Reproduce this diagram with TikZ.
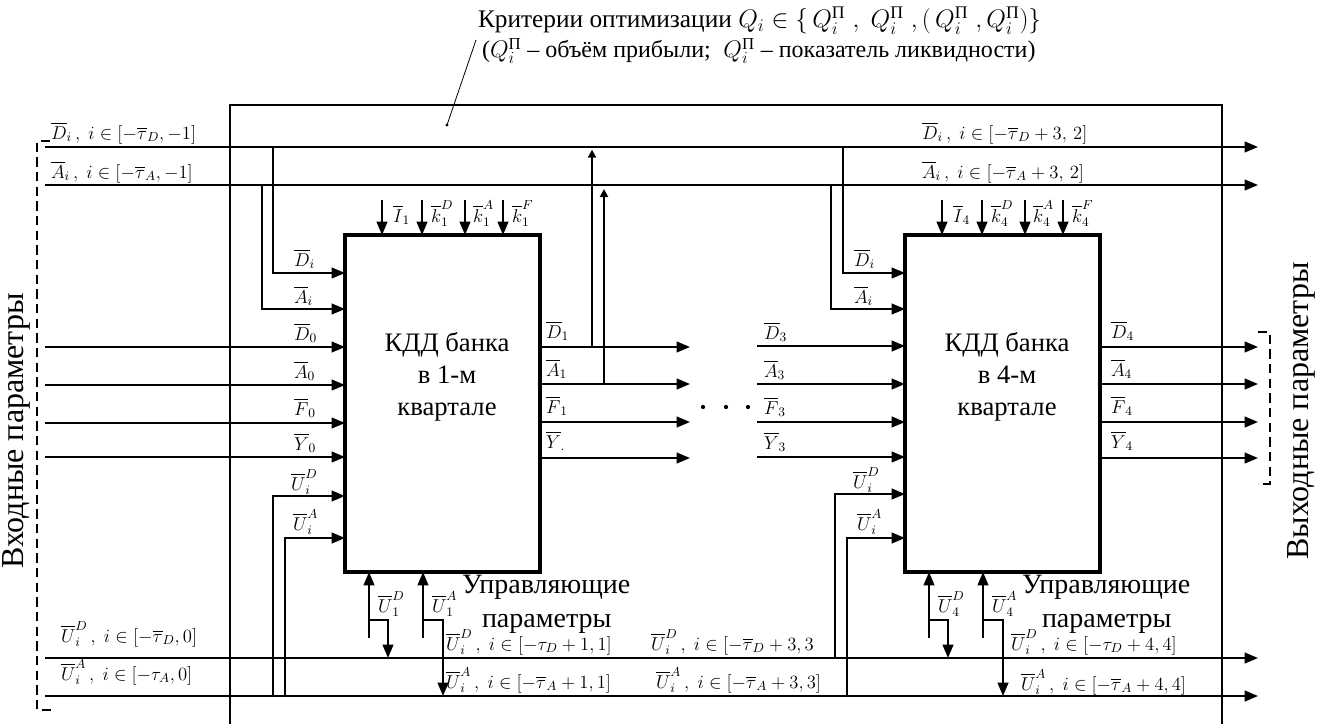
\RequirePackage{fix-cm}
\documentclass[tikz,border=0pt]{standalone}
\usepackage{amsmath}
\usepackage{fontspec}
\setmainfont{Liberation Serif}
\usetikzlibrary{arrows.meta}
\newcommand{\ov}[1]{\overline{#1}}
\newcommand{\Pe}{\text{П}}

\begin{document}
\begin{tikzpicture}[x=0.75pt,y=-0.75pt,line width=1.5pt,
  >={Triangle[length=10pt,width=8pt]},
  tip/.style={-{Triangle[length=6pt,width=6pt]}},
  lbl/.style={font=\fontsize{14}{16}\selectfont,inner sep=0pt,anchor=base west},
  big/.style={font=\fontsize{19}{24}\selectfont,inner sep=0pt},
  huge/.style={font=\fontsize{21}{26}\selectfont,inner sep=0pt},
  blk/.style={draw,line width=3pt,inner sep=0pt,outer sep=0pt,
    minimum width=146.25pt,minimum height=252.75pt},
  brk/.style={dash pattern=on 7pt off 4pt}]
  \useasboundingbox (0,0) rectangle (1319,724);

  \node[big,anchor=base west] (crit) at (477,28)
    {Критерии оптимизации $Q_i\in\{\,Q_i^{\Pe}\;,\;Q_i^{\Pe}\;,(\,Q_i^{\Pe}\;,Q_i^{\Pe})\}$};
  \node[big,anchor=base west,font=\fontsize{18}{24}\selectfont] (note) at (481,58)
    {($Q_i^{\Pe}$ -- объём прибыли;\; $Q_i^{\Pe}$ -- показатель ликвидности)};
  \coordinate (ptr) at (447,125);
  \draw[line width=.6pt] (476,40) -- (ptr);
  \fill (ptr) circle (1.2pt);

  \draw (230,724) -- (230,105) -- (1222,105) -- (1222,724);

  \node[blk] (b1) at (442.5,403.5) {};
  \node[blk] (b4) at (1002.5,403.5) {};
  \node[big,align=center,font=\fontsize{20}{24}\selectfont] (t1) at (447,377) {КДД банка\\в 1-м\\квартале};
  \node[big,align=center,font=\fontsize{20}{24}\selectfont] (t4) at (1007,377) {КДД банка\\в 4-м\\квартале};

  % buses
  \coordinate (dL) at (45,147);  \coordinate (dR) at (1258,147);
  \coordinate (aL) at (45,185);  \coordinate (aR) at (1258,185);
  \coordinate (udL) at (45,658); \coordinate (udR) at (1258,658);
  \coordinate (uaL) at (45,696); \coordinate (uaR) at (1258,696);
  \draw[->] (dL) -- (dR);
  \draw[->] (aL) -- (aR);
  \draw[->] (udL) -- (udR);
  \draw[->] (uaL) -- (uaR);

  \node[lbl] (ldl) at (50,139) {$\ov{D}_i\,,\;i\in[-\ov{\tau}_D,-1]$};
  \node[lbl] (lal) at (50,178) {$\ov{A}_i\,,\;i\in[-\ov{\tau}_A,-1]$};
  \node[lbl] (ldr) at (921,139) {$\ov{D}_i\,,\;i\in[-\ov{\tau}_D+3,\,2]$};
  \node[lbl] (lar) at (921,178) {$\ov{A}_i\,,\;i\in[-\ov{\tau}_A+3,\,2]$};
  \node[lbl] (lud0) at (60,642) {$\ov{U}_i^D\,,\;i\in[-\ov{\tau}_D,0]$};
  \node[lbl] (lua0) at (60,680) {$\ov{U}_i^A\,,\;i\in[-\tau_A,0]$};
  \node[lbl] (lud1) at (445,650) {$\ov{U}_i^D\,,\;i\in[-\tau_D+1,1]$};
  \node[lbl] (lua1) at (445,688) {$\ov{U}_i^A\,,\;i\in[-\ov{\tau}_A+1,1]$};
  \node[lbl] (lud3) at (650,650) {$\ov{U}_i^D\,,\;i\in[-\ov{\tau}_D+3,3$};
  \node[lbl] (lua3) at (655,688) {$\ov{U}_i^A\,,\;i\in[-\ov{\tau}_A+3,3]$};
  \node[lbl] (lud4) at (1010,650) {$\ov{U}_i^D\,,\;i\in[-\tau_D+4,4]$};
  \node[lbl] (lua4) at (1020,690) {$\ov{U}_i^A\,,\;i\in[-\ov{\tau}_A+4,4]$};

  \draw[brk] (50,141) -- (37,141) -- (37,710) -- (52,710);
  \draw[brk] (1258,332) -- (1270,332) -- (1270,484) -- (1258,484);
  \node[huge,rotate=90,font=\fontsize{24}{28}\selectfont] (inp) at (16,431) {Входные параметры};
  \node[huge,rotate=90,font=\fontsize{24}{28}\selectfont] (outp) at (1301,411) {Выходные параметры};

  % block 1 inputs
  \draw[->] (273,0 |- dL) |- (b1.west |- 0,273);
  \draw[->] (262,0 |- aL) |- (b1.west |- 0,309);
  \foreach \y in {347,385,423,457} \draw[->] (45,\y) -- (b1.west |- 0,\y);
  \draw[->] (273,0 |- uaL) |- (b1.west |- 0,496);
  \draw[->] (285,0 |- uaL) |- (b1.west |- 0,538);
  \node[lbl] at (293,266) {$\ov{D}_i$};
  \node[lbl] at (293,303) {$\ov{A}_i$};
  \node[lbl] at (293,340) {$\ov{D}_0$};
  \node[lbl] at (293,378) {$\ov{A}_0$};
  \node[lbl] at (293,415) {$\ov{F}_0$};
  \node[lbl] at (293,450) {$\ov{Y}_0$};
  \node[lbl] at (290,490) {$\ov{U}_i^D$};
  \node[lbl] at (292,530) {$\ov{U}_i^A$};

  % block 1 outputs
  \foreach \y in {347,384,422,458} \draw[->] (b1.east |- 0,\y) -- (690,\y);
  \draw[tip,shorten >=2pt] (592,347) -- (592,0 |- dL);
  \draw[tip,shorten >=3pt] (604,384) -- (604,0 |- aL);
  \node[lbl] at (545,338) {$\ov{D}_1$};
  \node[lbl] at (545,376) {$\ov{A}_1$};
  \node[lbl] at (545,413) {$\ov{F}_1$};
  \node[lbl] at (545,448) {$\ov{Y}_{.}$};

  \foreach \x in {703,726,748} \fill (\x,407) circle (1.6pt);

  % block 4 inputs
  \draw[->] (843,0 |- dL) |- (b4.west |- 0,273);
  \draw[->] (831,0 |- aL) |- (b4.west |- 0,309);
  \foreach \y in {346,384,422,457} \draw[->] (757,\y) -- (b4.west |- 0,\y);
  \draw[->] (835,0 |- udL) |- (b4.west |- 0,494);
  \draw[->] (847,0 |- uaL) |- (b4.west |- 0,538);
  \node[lbl] at (853,266) {$\ov{D}_i$};
  \node[lbl] at (853,303) {$\ov{A}_i$};
  \node[lbl] at (763,339) {$\ov{D}_3$};
  \node[lbl] at (763,377) {$\ov{A}_3$};
  \node[lbl] at (763,414) {$\ov{F}_3$};
  \node[lbl] at (763,449) {$\ov{Y}_3$};
  \node[lbl] at (852,488) {$\ov{U}_i^D$};
  \node[lbl] at (856,530) {$\ov{U}_i^A$};

  % block 4 outputs
  \foreach \y in {347,384,422,458} \draw[->] (b4.east |- 0,\y) -- (1258,\y);
  \node[lbl] at (1110,338) {$\ov{D}_4$};
  \node[lbl] at (1110,376) {$\ov{A}_4$};
  \node[lbl] at (1110,413) {$\ov{F}_4$};
  \node[lbl] at (1110,448) {$\ov{Y}_4$};

  % parameters above and below each block
  \foreach \b/\n in {b1/1,b4/4}{
    \begin{scope}[shift={(\b.north west)}]
      \foreach \dx in {37,77,120,158} \draw[->] (\dx,-35) -- (\dx,0);
      \node[lbl] at (47,-13) {$\ov{I}_\n$};
      \node[lbl] at (85,-13) {$\ov{k}_\n^D$};
      \node[lbl] at (127,-13) {$\ov{k}_\n^A$};
      \node[lbl] at (166,-13) {$\ov{k}_\n^F$};
    \end{scope}
    \begin{scope}[shift={(\b.south west)}]
      \draw[->] (24,66) -- (24,0);
      \draw[->] (24,48) -- (43,48) -- (43,0 |- udL);
      \draw[->] (78,66) -- (78,0);
      \draw[->] (78,48) -- (98,48) -- (98,0 |- uaL);
      \node[lbl] at (32,40) {$\ov{U}_\n^D$};
      \node[lbl] at (86,40) {$\ov{U}_\n^A$};
      \node[huge,anchor=base west] at (116,21) {Управляющие};
      \node[huge,anchor=base west] at (136,55) {параметры};
    \end{scope}
  }
\end{tikzpicture}
\end{document}
